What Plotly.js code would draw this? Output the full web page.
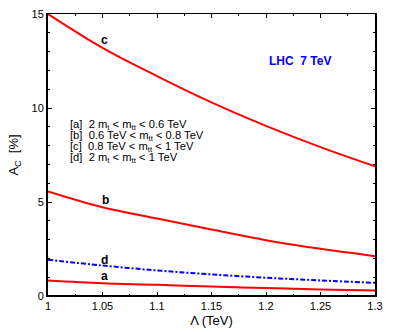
<!DOCTYPE html>
<html>
<head>
<meta charset="utf-8">
<script src="https://cdn.plot.ly/plotly-3.0.1.min.js"></script>
<style>body{margin:0;background:#fff}</style>
</head>
<body>
<div id="graph" style="width:396px;height:332px"></div>
<script>
var lambda = [1.00, 1.05, 1.10, 1.15, 1.20, 1.25, 1.30];
var curveA = [0.82, 0.68, 0.60, 0.50, 0.42, 0.35, 0.29];
var curveB = [5.56, 4.72, 4.12, 3.54, 2.97, 2.51, 2.12];
var curveC = [15.0, 13.2, 11.7, 10.3, 9.05, 7.92, 6.9];
var curveD = [1.93, 1.62, 1.36, 1.15, 0.97, 0.83, 0.70];

var legendLines = [
    '[a]  2 m<sub>t</sub> &lt; m<sub>tt</sub> &lt; 0.6 TeV',
    '[b]  0.6 TeV &lt; m<sub>tt</sub> &lt; 0.8 TeV',
    '[c]  0.8 TeV &lt; m<sub>tt</sub> &lt; 1 TeV',
    '[d]  2 m<sub>t</sub> &lt; m<sub>tt</sub> &lt; 1 TeV'
];

var font = 'Liberation Sans, Arial, sans-serif';

function curve(y, color, dash) {
    return {
        x: lambda, y: y, type: 'scatter', mode: 'lines',
        line: {color: color, width: 2, dash: dash, shape: 'spline'},
        hoverinfo: 'skip'
    };
}

var data = [
    curve(curveA, '#ff0000', 'solid'),
    curve(curveB, '#ff0000', 'solid'),
    curve(curveC, '#ff0000', 'solid'),
    curve(curveD, '#0000ff', '5px,2px,2px,2px')
];

var annotations = [
    {x: 1.052, y: 13.6, text: '<b>c</b>'},
    {x: 1.053, y: 5.13, text: '<b>b</b>'},
    {x: 1.052, y: 1.94, text: '<b>d</b>'},
    {x: 1.052, y: 1.04, text: '<b>a</b>'}
].map(function (a) {
    a.xref = 'x'; a.yref = 'y'; a.showarrow = false;
    a.font = {family: font, size: 12, color: '#000'};
    return a;
});

legendLines.forEach(function (t, i) {
    annotations.push({
        xref: 'paper', yref: 'paper', x: 0.06, y: 0.607 - i * 0.039,
        xanchor: 'left', yanchor: 'middle', showarrow: false,
        text: t, font: {family: font, size: 11.2, color: '#000'}
    });
});

annotations.push({
    xref: 'paper', yref: 'paper', x: 0.77, y: 0.835,
    xanchor: 'center', yanchor: 'middle', showarrow: false,
    text: '<b>LHC  7 TeV</b>', font: {family: font, size: 12, color: '#0000ff'}
});

var layout = {
    width: 396,
    height: 332,
    showlegend: false,
    margin: {l: 48, r: 21, t: 14, b: 36},
    paper_bgcolor: '#fff',
    plot_bgcolor: '#fff',
    font: {family: font, size: 11, color: '#000'},
    xaxis: {
        range: [1, 1.3],
        tickvals: [1, 1.05, 1.1, 1.15, 1.2, 1.25, 1.3],
        ticktext: ['1', '1.05', '1.1', '1.15', '1.2', '1.25', '1.3'],
        ticks: 'inside', ticklen: 4, tickwidth: 1, tickcolor: '#000',
        minor: {dtick: 0.025, tick0: 1, ticks: 'inside', ticklen: 2, tickcolor: '#000'},
        showline: true, linecolor: '#000', linewidth: 1, mirror: 'allticks',
        showgrid: false, zeroline: false,
        title: {text: '\u039b (TeV)', font: {family: font, size: 13}, standoff: 4},
        tickfont: {family: font, size: 11}
    },
    yaxis: {
        range: [0, 15],
        tickvals: [0, 5, 10, 15],
        ticks: 'inside', ticklen: 4, tickwidth: 1, tickcolor: '#000',
        minor: {dtick: 1, tick0: 0, ticks: 'inside', ticklen: 2, tickcolor: '#000'},
        showline: true, linecolor: '#000', linewidth: 2, mirror: 'allticks',
        showgrid: false, zeroline: false,
        title: {text: 'A<sub>C</sub>  [%]', font: {family: font, size: 13}, standoff: 10},
        tickfont: {family: font, size: 11}
    },
    shapes: [{
        type: 'line', xref: 'paper', yref: 'paper', x0: 0, x1: 1, y0: 0, y1: 0,
        line: {color: '#000', width: 2}
    }],
    annotations: annotations
};

Plotly.newPlot('graph', data, layout, {displayModeBar: false, staticPlot: true});
</script>
</body>
</html>
